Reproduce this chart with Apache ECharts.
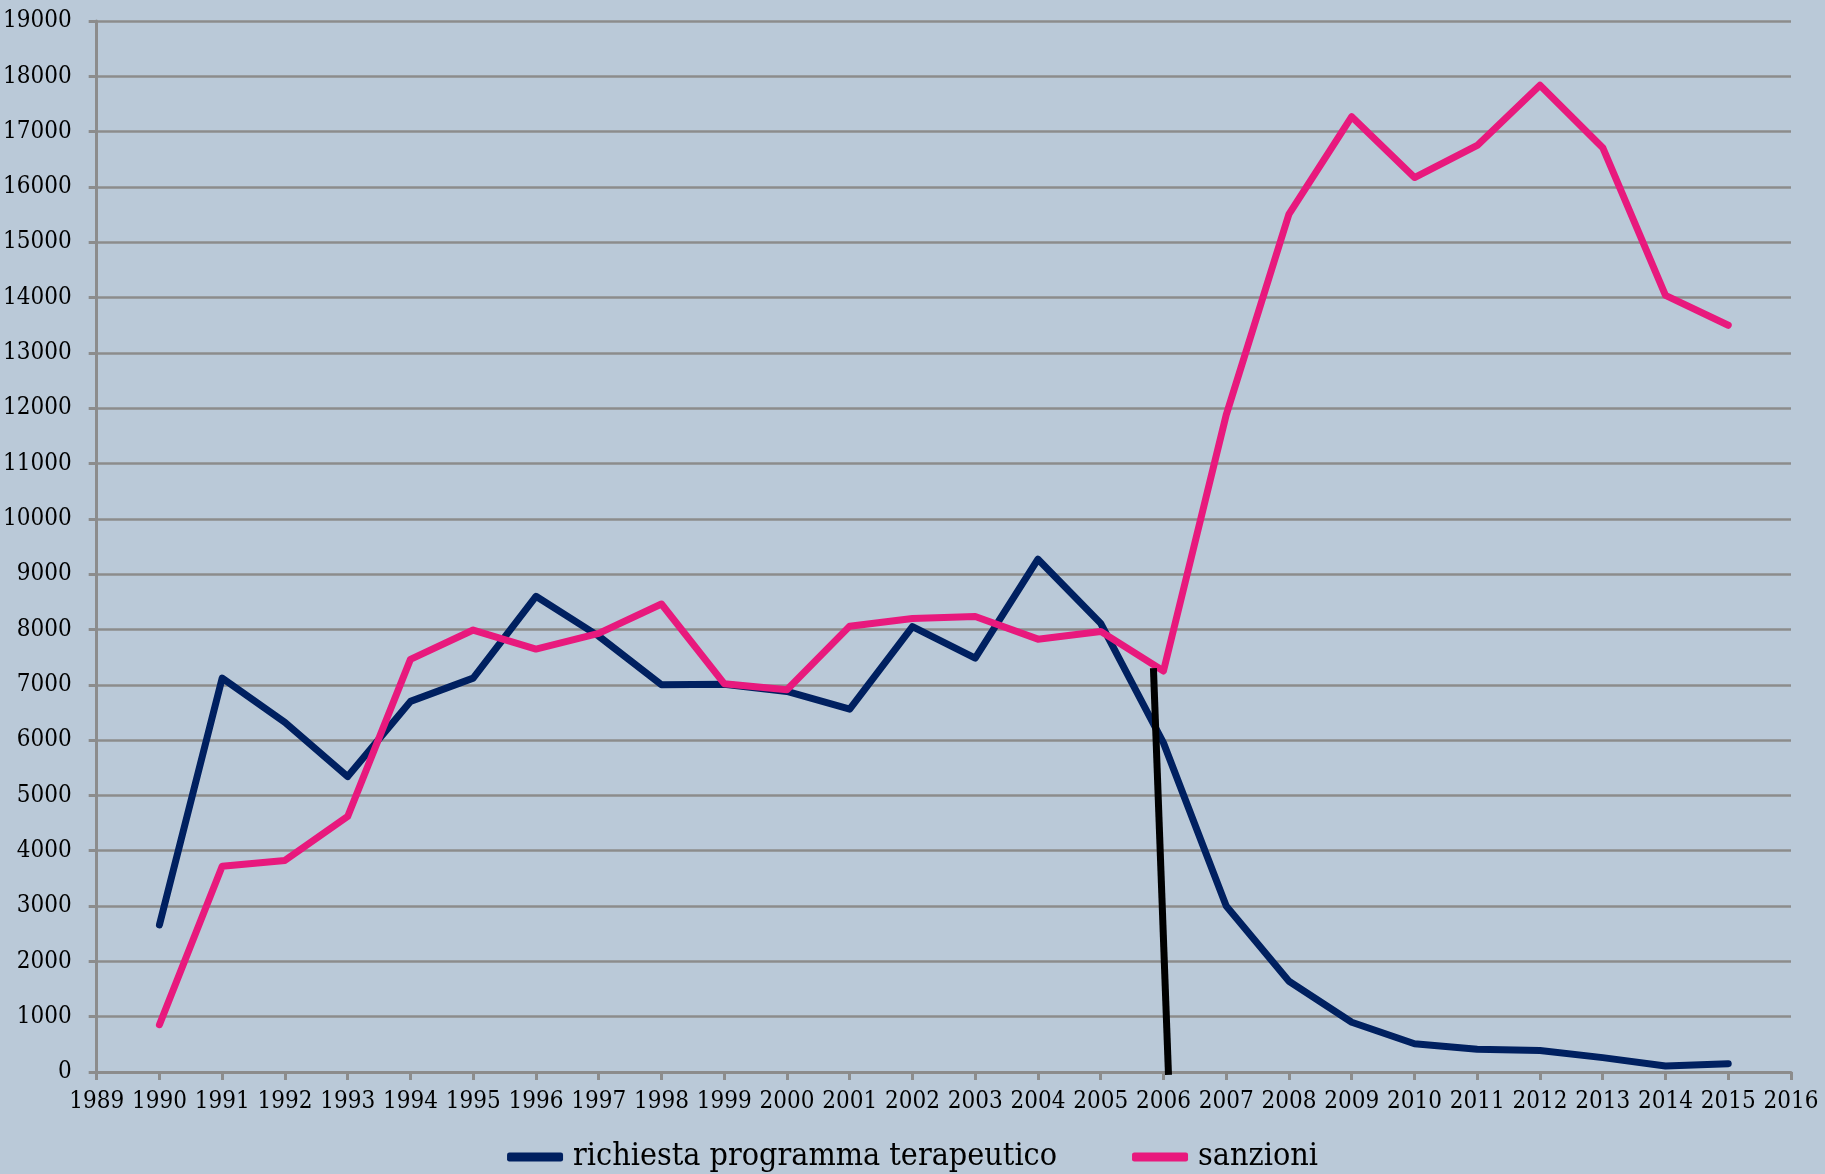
<!DOCTYPE html>
<html>
<head>
<meta charset="utf-8">
<script src="https://cdn.jsdelivr.net/npm/echarts@6/dist/echarts.min.js"></script>
<style>
  html, body { margin: 0; padding: 0; background: #bac9d8; }
  #chart { width: 1825px; height: 1174px; }
</style>
</head>
<body>
<div id="chart"></div>
<script>
// dati
const years = [1990, 1991, 1992, 1993, 1994, 1995, 1996, 1997, 1998, 1999, 2000, 2001, 2002,
  2003, 2004, 2005, 2006, 2007, 2008, 2009, 2010, 2011, 2012, 2013, 2014, 2015]
const richiesta = [2660, 7120, 6320, 5340, 6700, 7120, 8600, 7880, 7000, 7010, 6880, 6560, 8050,
  7480, 9270, 8110, 5950, 3000, 1640, 900, 510, 410, 390, 260, 110, 150]
const sanzioni = [855, 3720, 3825, 4620, 7460, 7990, 7645, 7930, 8460, 7020, 6910, 8060, 8200,
  8235, 7825, 7965, 7250, 11880, 15510, 17270, 16170, 16750, 17840, 16710, 14040, 13500]
// linea nera (2006)
const cutX = [2005.84, 2006.08]
const cutY = [7300, -50]

const seriesNames = ['richiesta programma terapeutico', 'sanzioni']
const font = '"DejaVu Serif Condensed", "DejaVu Serif", serif'

const chart = echarts.init(document.getElementById('chart'))

const pairs = (xs, ys) => xs.map((x, i) => [x, ys[i]])

const option = {
  backgroundColor: '#bac9d8',
  animation: false,
  grid: {
    left: 96,
    right: 34,
    top: 21,
    bottom: 102
  },
  legend: {
    data: seriesNames,
    top: 1136,
    left: 'center',
    icon: 'roundRect',
    itemWidth: 56,
    itemHeight: 9,
    itemGap: 75,
    textStyle: {
      fontFamily: font,
      fontSize: 32,
      color: '#000',
      padding: [0, 0, 0, 5]
    }
  },
  xAxis: {
    type: 'value',
    min: 1989,
    max: 2016,
    interval: 1,
    axisLine: { show: true, lineStyle: { color: '#8c8c8c', width: 3 } },
    axisTick: { show: true, length: 8, lineStyle: { color: '#8c8c8c', width: 3 } },
    splitLine: { show: false },
    axisLabel: {
      margin: 18,
      fontFamily: font,
      fontSize: 24,
      color: '#000',
      formatter: v => String(v)
    }
  },
  yAxis: {
    type: 'value',
    min: 0,
    max: 19000,
    interval: 1000,
    axisLine: { show: true, lineStyle: { color: '#8c8c8c', width: 3 } },
    axisTick: { show: true, length: 8, lineStyle: { color: '#8c8c8c', width: 3 } },
    splitLine: { show: true, lineStyle: { color: '#8c8c8c', width: 2.5 } },
    axisLabel: {
      margin: 25,
      fontFamily: font,
      fontSize: 24,
      color: '#000',
      formatter: v => String(v)
    }
  },
  series: [
    {
      name: seriesNames[0],
      type: 'line',
      data: pairs(years, richiesta),
      showSymbol: false,
      color: '#002060',
      lineStyle: { color: '#002060', width: 7, cap: 'round', join: 'round' },
      z: 3
    },
    {
      name: seriesNames[1],
      type: 'line',
      data: pairs(years, sanzioni),
      showSymbol: false,
      color: '#e8197d',
      lineStyle: { color: '#e8197d', width: 7, cap: 'round', join: 'round' },
      z: 4
    },
    {
      name: 'cut',
      type: 'line',
      data: pairs(cutX, cutY),
      showSymbol: false,
      clip: false,
      lineStyle: { color: '#000', width: 7 },
      z: 5
    }
  ]
}

chart.setOption(option)
</script>
</body>
</html>
